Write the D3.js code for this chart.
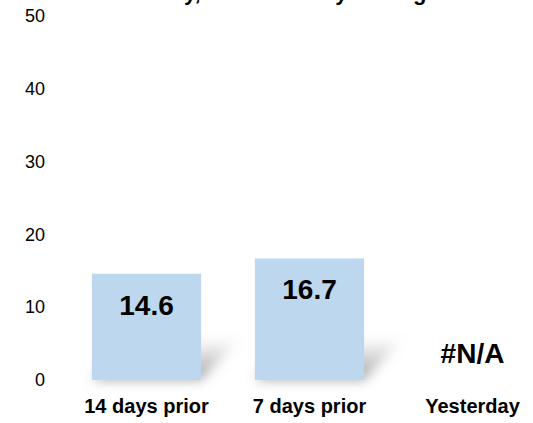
<!DOCTYPE html>
<html>
<head>
<meta charset="utf-8">
<script src="https://cdn.jsdelivr.net/npm/d3@7"></script>
<style>
  html, body { margin: 0; padding: 0; background: #fff; }
  svg { display: block; font-family: Arial, 'Liberation Sans', sans-serif; }
</style>
</head>
<body>
<div id="chart"></div>
<script>
const categories = ['14 days prior', '7 days prior', 'Yesterday']
const values = [14.6, 16.7, null]
const valueLabels = ['14.6', '16.7', '#N/A']
const yTicks = [0, 10, 20, 30, 40, 50]
const title = 'Cases Per Day, Fourteen Day Average'

const width = 533
const height = 423

const svg = d3.select('#chart')
  .append('svg')
  .attr('width', width)
  .attr('height', height)

const defs = svg.append('defs')
defs.append('filter')
  .attr('id', 'blur')
  .attr('x', '-50%').attr('y', '-50%')
  .attr('width', '200%').attr('height', '200%')
  .append('feGaussianBlur')
  .attr('stdDeviation', 6)

const grad = defs.append('linearGradient')
  .attr('id', 'shade')
  .attr('x1', 0).attr('y1', 0).attr('x2', 0).attr('y2', 1)
grad.append('stop').attr('offset', '0%').attr('stop-color', '#888').attr('stop-opacity', 0)
grad.append('stop').attr('offset', '100%').attr('stop-color', '#777').attr('stop-opacity', 0.7)

const x = d3.scaleBand()
  .domain(categories)
  .range([65, 554])
  .paddingInner(0.33)
  .paddingOuter(0.165)

const y = d3.scaleLinear()
  .domain([0, 50])
  .range([380, 16])

// title sits mostly above the visible area, like the original
svg.append('text')
  .attr('x', 241)
  .attr('y', 0)
  .attr('text-anchor', 'middle')
  .attr('font-size', 22)
  .attr('font-weight', 'bold')
  .text(title)

// y axis, labels only
const yAxis = svg.append('g')
  .attr('transform', 'translate(45,0)')
  .call(d3.axisLeft(y).tickValues(yTicks).tickSize(0).tickPadding(0))
yAxis.select('.domain').remove()
yAxis.selectAll('text')
  .attr('font-family', 'Arial, Liberation Sans, sans-serif')
  .attr('font-size', 18)
  .attr('fill', '#000')

const bars = categories.map((c, i) => ({ cat: c, value: values[i], label: valueLabels[i] }))

// perspective shadows behind bars
svg.append('g')
  .selectAll('path')
  .data(bars.filter(d => d.value !== null))
  .join('path')
  .attr('d', d => {
    const x0 = x(d.cat)
    const x1 = x0 + x.bandwidth()
    const b = y(0)
    const h = Math.min(y(0) - y(d.value), 42)
    return `M${x0},${b} L${x1},${b} L${x1 + 40},${b - h} L${x0 + 40},${b - h} Z`
  })
  .attr('fill', 'url(#shade)')
  .attr('filter', 'url(#blur)')

svg.append('g')
  .selectAll('rect')
  .data(bars.filter(d => d.value !== null))
  .join('rect')
  .attr('x', d => x(d.cat))
  .attr('y', d => y(d.value))
  .attr('width', x.bandwidth())
  .attr('height', d => y(0) - y(d.value))
  .attr('fill', '#BDD7EE')

// value labels
svg.append('g')
  .selectAll('text')
  .data(bars)
  .join('text')
  .attr('x', d => x(d.cat) + x.bandwidth() / 2)
  .attr('y', d => d.value === null ? y(0) - 17 : y(d.value) + 41)
  .attr('text-anchor', 'middle')
  .attr('font-size', 28)
  .attr('font-weight', 'bold')
  .attr('fill', '#000')
  .text(d => d.label)

// category labels
const xAxis = svg.append('g')
  .attr('transform', `translate(0,${y(0)})`)
  .call(d3.axisBottom(x).tickSize(0).tickPadding(0))
xAxis.select('.domain').remove()
xAxis.selectAll('text')
  .attr('dy', 0)
  .attr('y', 33)
  .attr('font-family', 'Arial, Liberation Sans, sans-serif')
  .attr('font-size', 20)
  .attr('font-weight', 'bold')
  .attr('fill', '#000')
</script>
</body>
</html>
